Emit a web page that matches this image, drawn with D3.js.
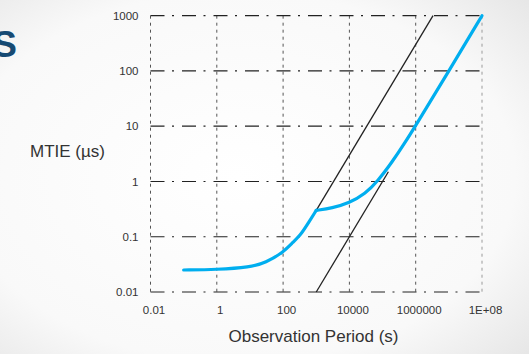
<!DOCTYPE html>
<html>
<head>
<meta charset="utf-8">
<script src="https://cdn.jsdelivr.net/npm/d3@7"></script>
<style>
  html, body { margin: 0; padding: 0; }
  body { width: 529px; height: 354px; overflow: hidden; font-family: "Liberation Sans", Arial, sans-serif; }
</style>
</head>
<body>
<svg id="chart"></svg>
<script>
// tick values + labels (Excel style)
const xTicks = [0.01, 1, 100, 10000, 1000000, 1e8];
const xLabels = ["0.01", "1", "100", "10000", "1000000", "1E+08"];
const yTicks = [0.01, 0.1, 1, 10, 100, 1000];
const yLabels = ["0.01", "0.1", "1", "10", "100", "1000"];

// blue MTIE curve (tau s, MTIE us) - split at the kink
const blueLowTau = [0.1, 1, 10, 30, 100, 200, 325, 500, 1000];
const blueLowMtie = [0.025, 0.0255, 0.028, 0.034, 0.052, 0.08, 0.105, 0.155, 0.3];
const blueHighTau = [1000, 3000, 10000, 30000, 70000, 200000, 500000, 1000000, 10000000, 100000000];
const blueHighMtie = [0.3, 0.33, 0.41, 0.6, 1.0, 2.3, 5.3, 10.3, 100, 1000];

// black reference masks
const upperTau = [1000, 3330000];
const upperMtie = [0.3, 1000];
const lowerTau = [1000, 150000];
const lowerMtie = [0.01, 1.5];

const W = 529, H = 354;
const svg = d3.select("#chart").attr("width", W).attr("height", H);

// background vignette
const defs = svg.append("defs");
const grad = defs.append("radialGradient").attr("id", "bg")
    .attr("cx", "45%").attr("cy", "50%").attr("r", "75%");
grad.append("stop").attr("offset", "0%").attr("stop-color", "#ffffff");
grad.append("stop").attr("offset", "70%").attr("stop-color", "#f9f9f9");
grad.append("stop").attr("offset", "100%").attr("stop-color", "#e6e6e6");
svg.append("rect").attr("width", W).attr("height", H).attr("fill", "url(#bg)");

// title letter, cut off at the left edge like the source slide
svg.append("text")
    .attr("x", 17).attr("y", 56.5)
    .attr("text-anchor", "end")
    .attr("font-size", 37).attr("font-weight", "bold")
    .attr("fill", "#164a73")
    .text("S");

const x = d3.scaleLog().domain([0.01, 1e8]).range([150.5, 482]);
const y = d3.scaleLog().domain([0.01, 1000]).range([292, 15.7]);

// grid
const grid = svg.append("g");
grid.selectAll(".vline")
    .data(xTicks)
    .join("line")
    .attr("class", "vline")
    .attr("x1", d => x(d)).attr("x2", d => x(d))
    .attr("y1", y(1000)).attr("y2", y(0.01))
    .attr("stroke", (d, i) => i === xTicks.length - 1 ? "#9a9a9a" : "#555")
    .attr("stroke-width", 1)
    .attr("stroke-dasharray", "3,4");

grid.selectAll(".hline")
    .data(yTicks)
    .join("line")
    .attr("class", "hline")
    .attr("x1", x(0.01)).attr("x2", x(1e8))
    .attr("y1", d => y(d)).attr("y2", d => y(d))
    .attr("stroke", "#222")
    .attr("stroke-width", 1.2)
    .attr("stroke-dasharray", "14,7.5,2,8");

// axes (labels only)
const yAxis = svg.append("g")
    .attr("transform", `translate(${x(0.01)},0)`)
    .call(d3.axisLeft(y).tickValues(yTicks).tickFormat((d, i) => yLabels[i]).tickSize(0).tickPadding(12));
const xAxis = svg.append("g")
    .attr("transform", `translate(0,${y(0.01)})`)
    .call(d3.axisBottom(x).tickValues(xTicks).tickFormat((d, i) => xLabels[i]).tickSize(0).tickPadding(13.5));

[yAxis, xAxis].forEach(a => {
  a.select(".domain").remove();
  a.selectAll("text")
      .attr("font-family", "'Liberation Sans', Arial, sans-serif")
      .attr("font-size", 11.5)
      .attr("fill", "#333");
});
xAxis.selectAll("text").attr("dx", 3);

// lines
const line = d3.line()
    .x(d => x(d[0]))
    .y(d => y(d[1]));
const smooth = d3.line()
    .x(d => x(d[0]))
    .y(d => y(d[1]))
    .curve(d3.curveBasis);

svg.append("path")
    .datum(d3.zip(upperTau, upperMtie))
    .attr("d", line)
    .attr("fill", "none").attr("stroke", "#222").attr("stroke-width", 1.3);
svg.append("path")
    .datum(d3.zip(lowerTau, lowerMtie))
    .attr("d", line)
    .attr("fill", "none").attr("stroke", "#222").attr("stroke-width", 1.3);

[d3.zip(blueLowTau, blueLowMtie), d3.zip(blueHighTau, blueHighMtie)].forEach(seg => {
  svg.append("path")
      .datum(seg)
      .attr("d", smooth)
      .attr("fill", "none")
      .attr("stroke", "#00aeef")
      .attr("stroke-width", 3.2)
      .attr("stroke-linejoin", "round")
      .attr("stroke-linecap", "round");
});

// axis titles
svg.append("text")
    .attr("x", 30).attr("y", 156.7)
    .attr("font-size", 17).attr("fill", "#333")
    .text("MTIE (µs)");
svg.append("text")
    .attr("x", 313.5).attr("y", 342)
    .attr("text-anchor", "middle")
    .attr("font-size", 17).attr("fill", "#333")
    .text("Observation Period (s)");
</script>
</body>
</html>
